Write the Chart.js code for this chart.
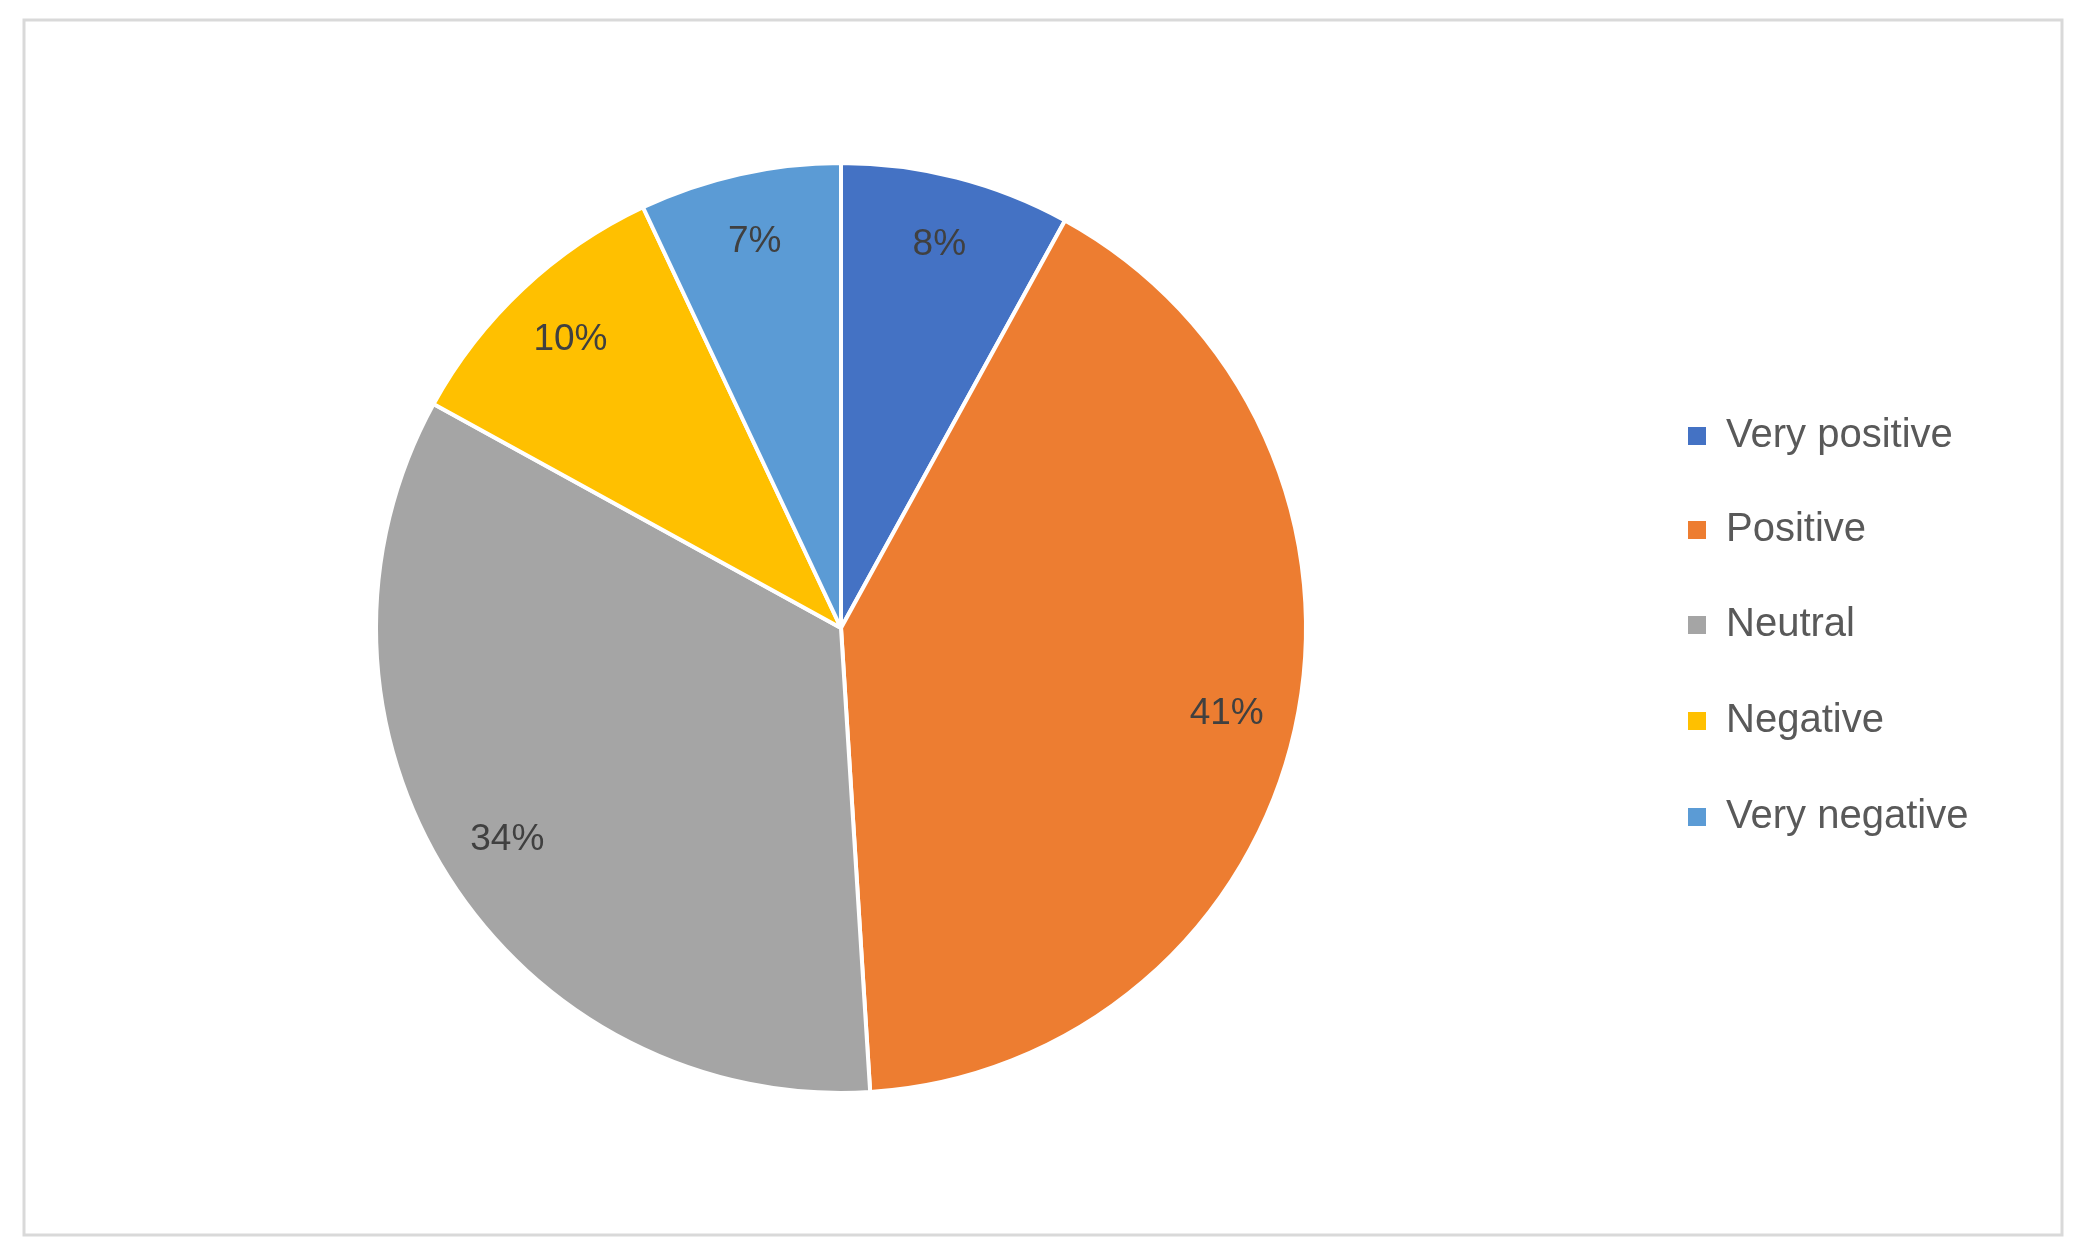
<!DOCTYPE html>
<html><head><meta charset="utf-8">
<script src="https://cdn.jsdelivr.net/npm/chart.js@4/dist/chart.umd.min.js"></script>
<style>html,body{margin:0;padding:0;background:#fff;}</style>
</head><body>
<canvas id="c" width="2082" height="1260"></canvas>
<script>
const categories = ["Very positive","Positive","Neutral","Negative","Very negative"];
const values = [8,41,34,10,7];
const colors = ["#4472C4","#ED7D31","#A5A5A5","#FFC000","#5B9BD5"];
const FONT = '"Liberation Sans", "DejaVu Sans", sans-serif';

const extras = {
  id:'extras',
  beforeDraw(chart){
    const ctx=chart.ctx;
    ctx.save();
    ctx.fillStyle='#fff';ctx.fillRect(0,0,chart.width,chart.height);
    ctx.strokeStyle='#D9D9D9';ctx.lineWidth=3;
    ctx.strokeRect(24,20,2038,1215);
    ctx.restore();
  },
  afterDatasetsDraw(chart){
    const ctx=chart.ctx;
    const meta=chart.getDatasetMeta(0);
    const total=values.reduce((a,b)=>a+b,0);
    ctx.save();
    ctx.font='37px '+FONT;
    ctx.fillStyle='#404040';
    ctx.textAlign='center';ctx.textBaseline='middle';
    meta.data.forEach((arc,i)=>{
      const p=arc.getProps(['x','y','startAngle','endAngle','outerRadius'],true);
      const a=(p.startAngle+p.endAngle)/2;
      const r=p.outerRadius*0.85;
      ctx.fillText(Math.round(values[i]/total*100)+'%',p.x+Math.cos(a)*r,p.y+Math.sin(a)*r);
    });
    // legend
    const ys=[436,530,625,721,817];
    ctx.textAlign='left';
    ctx.font='40px '+FONT;
    categories.forEach((c,i)=>{
      ctx.fillStyle=colors[i];
      ctx.fillRect(1688,ys[i]-9,18,18);
      ctx.fillStyle='#595959';
      ctx.fillText(c,1726,ys[i]);
    });
    ctx.restore();
  }
};

new Chart(document.getElementById('c'),{
  type:'pie',
  data:{labels:categories,datasets:[{data:values,backgroundColor:colors,borderColor:'#ffffff',borderWidth:4}]},
  options:{
    responsive:false,animation:false,
    layout:{padding:{left:374,right:774,top:161,bottom:165}},
    plugins:{legend:{display:false},tooltip:{enabled:false}}
  },
  plugins:[extras]
});
</script>
</body></html>
